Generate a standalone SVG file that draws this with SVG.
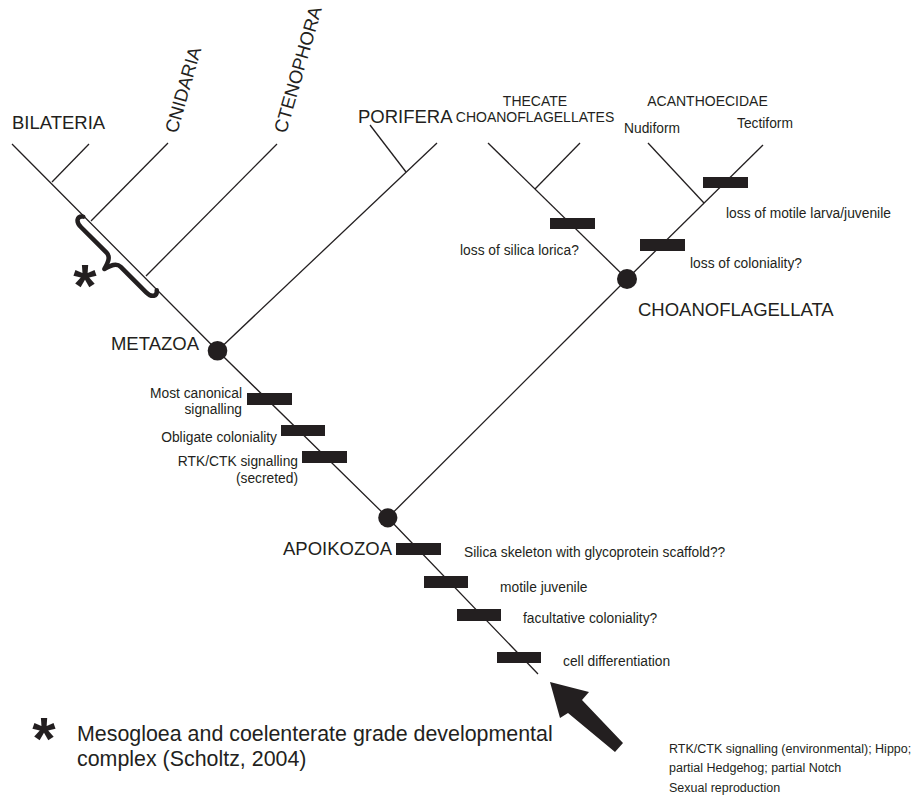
<svg xmlns="http://www.w3.org/2000/svg" width="920" height="799" viewBox="0 0 920 799">
<style>
  .ln { stroke: #231f20; stroke-width: 1.3; fill: none; stroke-linecap: butt; }
  .bar { fill: #231f20; }
  .dot { fill: #231f20; }
  .t { font-family: "Liberation Sans", Arial, sans-serif; fill: #231f20; }
  .big { font-size: 18.5px; }
  .mid { font-size: 14px; }
  .sm { font-size: 13.8px; }
  .xs { font-size: 12.5px; }
  .leg { font-size: 21.4px; }
  .ast { font-size: 60px; font-weight: bold; }
</style>
<rect width="920" height="799" fill="#ffffff"/>
<g id="connectors">
  <polyline class="ln" points="12,144 217.5,350.7 387.8,517.8 538,674"/>
  <line class="ln" x1="52" y1="182" x2="89" y2="144"/>
  <line class="ln" x1="91" y1="221" x2="168" y2="143"/>
  <line class="ln" x1="146" y1="276" x2="277" y2="144"/>
  <line class="ln" x1="217.5" y1="350.7" x2="437" y2="143"/>
  <line class="ln" x1="370" y1="125" x2="406" y2="172"/>
  <line class="ln" x1="387.8" y1="517.8" x2="627" y2="279"/>
  <line class="ln" x1="627" y1="279" x2="488" y2="143"/>
  <line class="ln" x1="535" y1="189" x2="580" y2="143"/>
  <line class="ln" x1="627" y1="279" x2="763" y2="145"/>
  <line class="ln" x1="648" y1="143" x2="704" y2="203"/>
  <polygon id="origin-arrow" class="bar" points="550,682 589,692 582,700 623,743 615,752 568,713 560,718"/>
</g>
<g id="node-bilateria"><text class="t big" x="12" y="129">BILATERIA</text></g>
<g id="node-cnidaria"><text class="t big" transform="translate(177,134) rotate(-74)">CNIDARIA</text></g>
<g id="node-ctenophora"><text class="t big" transform="translate(286,134) rotate(-74)">CTENOPHORA</text></g>
<g id="node-porifera"><text class="t big" x="358" y="123">PORIFERA</text></g>
<g id="node-thecate">
  <text class="t mid" x="535" y="106" text-anchor="middle">THECATE</text>
  <text class="t mid" x="535" y="122" text-anchor="middle">CHOANOFLAGELLATES</text>
</g>
<g id="node-acanthoecidae"><text class="t mid" x="707.5" y="106" text-anchor="middle">ACANTHOECIDAE</text></g>
<g id="node-nudiform"><text class="t sm" x="624" y="133">Nudiform</text></g>
<g id="node-tectiform"><text class="t sm" x="737" y="128">Tectiform</text></g>
<g id="node-metazoa">
  <circle class="dot" cx="217.5" cy="350.7" r="9.8"/>
  <text class="t big" x="199" y="350" text-anchor="end">METAZOA</text>
</g>
<g id="node-apoikozoa">
  <circle class="dot" cx="387.8" cy="517.8" r="9.6"/>
  <text class="t big" x="283" y="555">APOIKOZOA</text>
</g>
<g id="node-choanoflagellata">
  <circle class="dot" cx="627" cy="279" r="10"/>
  <text class="t big" x="638" y="316">CHOANOFLAGELLATA</text>
</g>
<g id="char-most-canonical">
  <rect class="bar" x="247" y="393" width="45" height="12"/>
  <text class="t sm" x="242" y="398" text-anchor="end">Most canonical</text>
  <text class="t sm" x="242" y="414" text-anchor="end">signalling</text>
</g>
<g id="char-obligate">
  <rect class="bar" x="281" y="425" width="44" height="11"/>
  <text class="t sm" x="277" y="442" text-anchor="end">Obligate coloniality</text>
</g>
<g id="char-rtk-secreted">
  <rect class="bar" x="302" y="451" width="45" height="12"/>
  <text class="t sm" x="298" y="466" text-anchor="end">RTK/CTK signalling</text>
  <text class="t sm" x="298" y="483" text-anchor="end">(secreted)</text>
</g>
<g id="char-silica">
  <rect class="bar" x="396" y="543" width="45" height="12"/>
  <text class="t sm" x="464" y="557">Silica skeleton with glycoprotein scaffold??</text>
</g>
<g id="char-motile">
  <rect class="bar" x="424" y="576" width="44" height="12"/>
  <text class="t sm" x="500" y="592">motile juvenile</text>
</g>
<g id="char-facultative">
  <rect class="bar" x="457" y="609" width="44" height="12"/>
  <text class="t sm" x="523" y="623">facultative coloniality?</text>
</g>
<g id="char-celldiff">
  <rect class="bar" x="497" y="652" width="44" height="11"/>
  <text class="t sm" x="563" y="666">cell differentiation</text>
</g>
<g id="char-lorica">
  <rect class="bar" x="550" y="218" width="45" height="11"/>
  <text class="t sm" x="460" y="255">loss of silica lorica?</text>
</g>
<g id="char-coloniality-loss">
  <rect class="bar" x="640" y="239" width="45" height="12"/>
  <text class="t sm" x="690" y="268">loss of coloniality?</text>
</g>
<g id="char-larva-loss">
  <rect class="bar" x="703" y="177" width="45" height="11"/>
  <text class="t sm" x="726" y="218">loss of motile larva/juvenile</text>
</g>
<g id="brace-mesogloea">
  <path transform="translate(120.7,252.7) rotate(45)" d="M -52,1 C -57,5 -54,10 -46,10 L -10,10 C -4,10 -2,16 0,23 C 2,16 4,10 10,10 L 46,10 C 54,10 57,5 52,1" fill="none" stroke="#231f20" stroke-width="4.5" stroke-linecap="round" stroke-linejoin="round"/>
  <text class="t ast" x="85" y="306" text-anchor="middle">*</text>
</g>
<g id="legend">
  <text class="t ast" x="44" y="759" text-anchor="middle">*</text>
  <text class="t leg" x="77" y="741">Mesogloea and coelenterate grade developmental</text>
  <text class="t leg" x="77" y="766">complex (Scholtz, 2004)</text>
</g>
<g id="origin-label">
  <text class="t xs" x="669" y="753">RTK/CTK signalling (environmental); Hippo;</text>
  <text class="t xs" x="669" y="772">partial Hedgehog; partial Notch</text>
  <text class="t xs" x="669" y="792">Sexual reproduction</text>
</g>
</svg>
